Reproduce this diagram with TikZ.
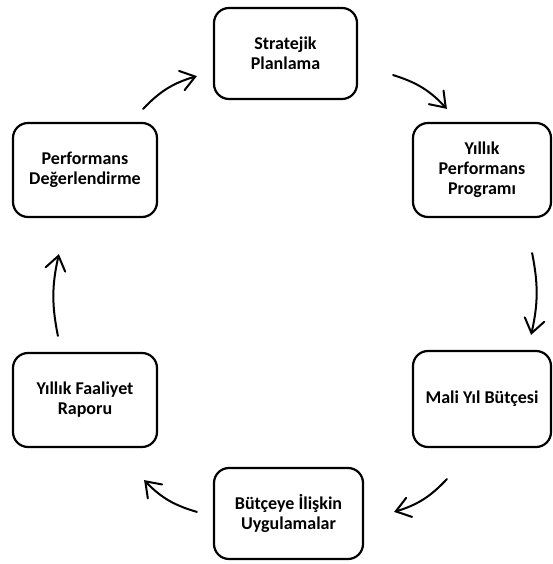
\documentclass[tikz,border=0pt]{standalone}
\usepackage{fontspec}
\setmainfont{Carlito}
\usetikzlibrary{arrows.meta,calc}
\begin{document}
\begin{tikzpicture}[x=1pt,y=1pt,
  stage/.style={draw=black, line width=2.2pt, rounded corners=15pt, fill=white,
    align=center, font=\fontsize{18}{20}\selectfont\bfseries, inner sep=2pt},
  flow/.style={line width=2pt, line cap=round,
    -{Straight Barb[length=14pt,width=20pt,line width=2pt,line cap=round]}}]
\useasboundingbox (0,0) rectangle (553,564);
% cycle stages
\node[stage, minimum width=143pt, minimum height=91pt] (strat) at (285.5,510.5) {Stratejik\\Planlama};
\node[stage, minimum width=138pt, minimum height=94pt] (yil) at (482,394) {Yıllık\\Performans\\Programı};
\node[stage, minimum width=138pt, minimum height=96pt] (mali) at (482,165) {Mali Yıl Bütçesi};
\node[stage, minimum width=149pt, minimum height=91pt] (butce) at (288.5,50.5) {Bütçeye İlişkin\\Uygulamalar};
\node[stage, minimum width=144pt, minimum height=94pt] (faal) at (85,164) {Yıllık Faaliyet\\Raporu};
\node[stage, minimum width=144pt, minimum height=94pt] (perf) at (85,394) {Performans\\Değerlendirme};
% arrow end points between neighbouring stages
\coordinate (a1s) at ($(perf.north east)+(-15,13)$);
\coordinate (a1e) at ($(strat.south west)+(-16,24)$);
\coordinate (a2s) at ($(strat.south east)+(35,25)$);
\coordinate (a2e) at ($(yil.north west)+(35,13)$);
\coordinate (a3s) at ($(yil.south east)+(-20,-35)$);
\coordinate (a3e) at ($(mali.north east)+(-21,15)$);
\coordinate (a4s) at ($(mali.south west)+(35,-31)$);
\coordinate (a4e) at ($(butce.north east)+(30,-45)$);
\coordinate (a5s) at ($(butce.north west)+(-16,-45)$);
\coordinate (a5e) at ($(faal.south east)+(-14,-32)$);
\coordinate (a6s) at ($(faal.north west)+(46,16)$);
\coordinate (a6e) at ($(perf.south west)+(47,-36)$);
% clockwise arrows
\draw[flow] (a1s) to[bend left=15] (a1e);
\draw[flow] (a2s) to[bend left=15] (a2e);
\draw[flow] (a3s) to[bend left=12] (a3e);
\draw[flow] (a4s) to[bend left=15] (a4e);
\draw[flow] (a5s) to[bend left=15] (a5e);
\draw[flow] (a6s) to[bend left=12] (a6e);
\end{tikzpicture}
\end{document}
